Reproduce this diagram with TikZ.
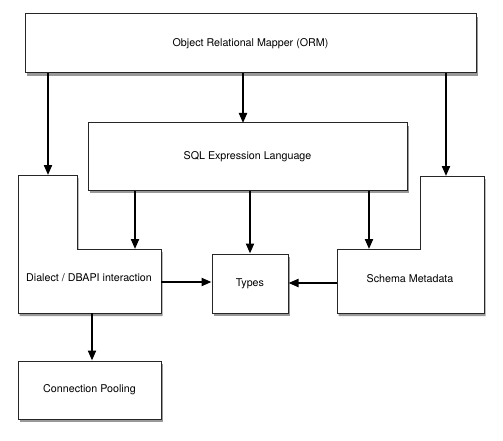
\documentclass[tikz,border=0pt]{standalone}
\usepackage{fontspec}
\setmainfont{TeX Gyre Heros}
\usetikzlibrary{arrows.meta}
\usetikzlibrary{shadows}

\begin{document}
\begin{tikzpicture}[
  x=1pt, y=-1pt,
  line join=miter,
  >={Triangle[length=10pt,width=8pt]},
  myshadow/.style={drop shadow={shadow xshift=1.5pt,shadow yshift=-3pt,opacity=0.4,fill=black}},
  mybox/.style={draw=black!85,line width=1pt,fill=white,rectangle,myshadow},
  mylabel/.style={font=\fontsize{10.7}{12}\selectfont},
  myarrow/.style={->,line width=2pt}
]
\useasboundingbox (0,0) rectangle (503,441);

% plain boxes
\node [mybox,mylabel,minimum width=451pt,minimum height=59pt] (orm) at (250.5,43.5) {Object Relational Mapper (ORM)};
\node [mybox,mylabel,minimum width=319pt,minimum height=67pt] (sql) at (247.5,156.5) {SQL Expression Language};
\node [mybox,mylabel,minimum width=76pt,minimum height=59pt] (types) at (250,283.5) {Types};
\node [mybox,mylabel,minimum width=143pt,minimum height=58pt] (pool) at (89.5,390) {Connection Pooling};

% the two L shaped boxes
\draw [mybox] (18,175) -- (77,175) -- (77,249) -- (161,249) -- (161,313) -- (18,313) -- cycle;
\draw [mybox] (420,176) -- (484,176) -- (484,313) -- (337,313) -- (337,249) -- (420,249) -- cycle;
\node [mylabel] (dialect) at (89,278) {Dialect / DBAPI interaction};
\node [mylabel] (schema) at (410,279) {Schema Metadata};

\coordinate (dtop) at (48,175);
\coordinate (stop) at (446,176);
\coordinate (dstep) at (135,249);
\coordinate (sstep) at (369,249);
\coordinate (dright) at (161,282);
\coordinate (sleft) at (337,283);
\coordinate (dbot) at (92,313);
\coordinate (sqltop) at (243,123);

\draw [myarrow] (orm.south -| dtop) -- (dtop);
\draw [myarrow] (orm.south -| sqltop) -- (sqltop);
\draw [myarrow] (orm.south -| stop) -- (stop);

\draw [myarrow] (sql.south -| dstep) -- (dstep);
\draw [myarrow] (sql.south -| types.north) -- (types.north);
\draw [myarrow] (sql.south -| sstep) -- (sstep);

\draw [myarrow] (dright) -- (types.west |- dright);
\draw [myarrow] (sleft) -- (types.east |- sleft);
\draw [myarrow] (dbot) -- (pool.north -| dbot);

\end{tikzpicture}
\end{document}
